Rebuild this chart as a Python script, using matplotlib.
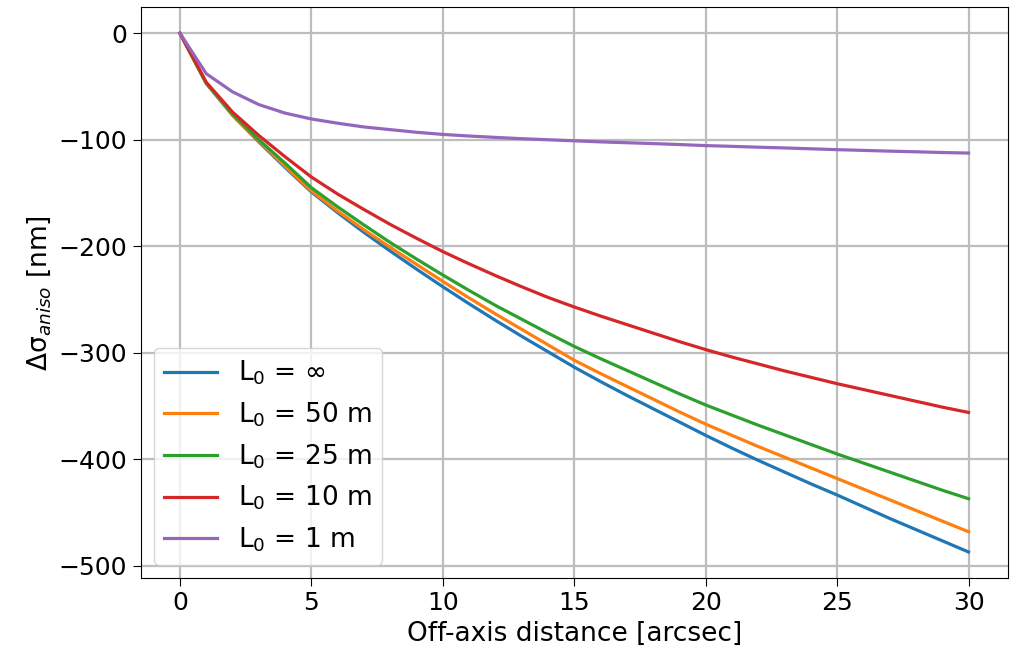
import numpy as np
import matplotlib
matplotlib.use("Agg")
import matplotlib.pyplot as plt

# off-axis distance [arcsec]
theta = list(range(0, 31))

# anisoplanatism error [nm] for each outer scale
l0_inf = [0, -47, -77, -102, -126, -149, -168.5, -187, -204.5, -221.5, -238,
          -254, -269.5, -284.5, -299, -313.5, -327, -340, -352.5, -365, -377.5,
          -389.5, -401, -412, -423, -433.5, -444.5, -455.5, -466, -476.5, -487]
l0_50 = [0, -47, -77, -101, -125, -148, -167, -184.5, -201, -217, -233,
         -248.5, -263.5, -278, -292.5, -307, -319.5, -331.5, -343.5, -355.5, -367,
         -377.5, -388, -398, -408, -418, -428, -438, -448, -458, -468]
l0_25 = [0, -47, -76, -100, -122, -145, -163, -180, -196.5, -212, -227,
         -241.5, -255.5, -268.5, -281.5, -294, -305.5, -316.5, -327.5, -338.5, -349,
         -358.5, -368, -377, -386, -395, -403.5, -412, -420.5, -429, -437]
l0_10 = [0, -46, -74, -96, -116, -135, -151, -165.5, -179.5, -192.5, -205,
         -216.5, -227.5, -238, -248, -257, -265.5, -273.5, -281.5, -289.5, -297,
         -304, -310.5, -317, -323, -329, -334.5, -340, -345.5, -351, -356]
l0_1 = [0, -38, -55, -67, -75, -80.5, -84.5, -88, -90.5, -93, -95,
        -96.5, -97.8, -99, -100, -101, -102, -102.8, -103.6, -104.5, -105.5,
        -106.2, -107, -107.7, -108.5, -109.3, -110, -110.7, -111.3, -112, -112.5]

series = [l0_inf, l0_50, l0_25, l0_10, l0_1]
labels = ["L$_0$ = ∞", "L$_0$ = 50 m", "L$_0$ = 25 m", "L$_0$ = 10 m", "L$_0$ = 1 m"]

plt.rcParams["font.size"] = 18

fig, ax = plt.subplots(figsize=(10.11, 6.62), dpi=100)
for vals, lab in zip(series, labels):
    ax.plot(theta, vals, lw=2.3, label=lab)

ax.set_xticks([0, 5, 10, 15, 20, 25, 30])
ax.set_yticks([0, -100, -200, -300, -400, -500])
ax.tick_params(labelsize=18, length=6)
ax.grid(True, color="#bdbdbd", lw=1.6)
ax.set_xlabel("Off-axis distance [arcsec]", fontsize=19)
ax.set_ylabel("Δσ$_{aniso}$ [nm]", fontsize=19)
ax.legend(loc="lower left", fontsize=19)

fig.subplots_adjust(left=0.139, right=0.997, top=0.989, bottom=0.127)
fig.savefig("out.png")
